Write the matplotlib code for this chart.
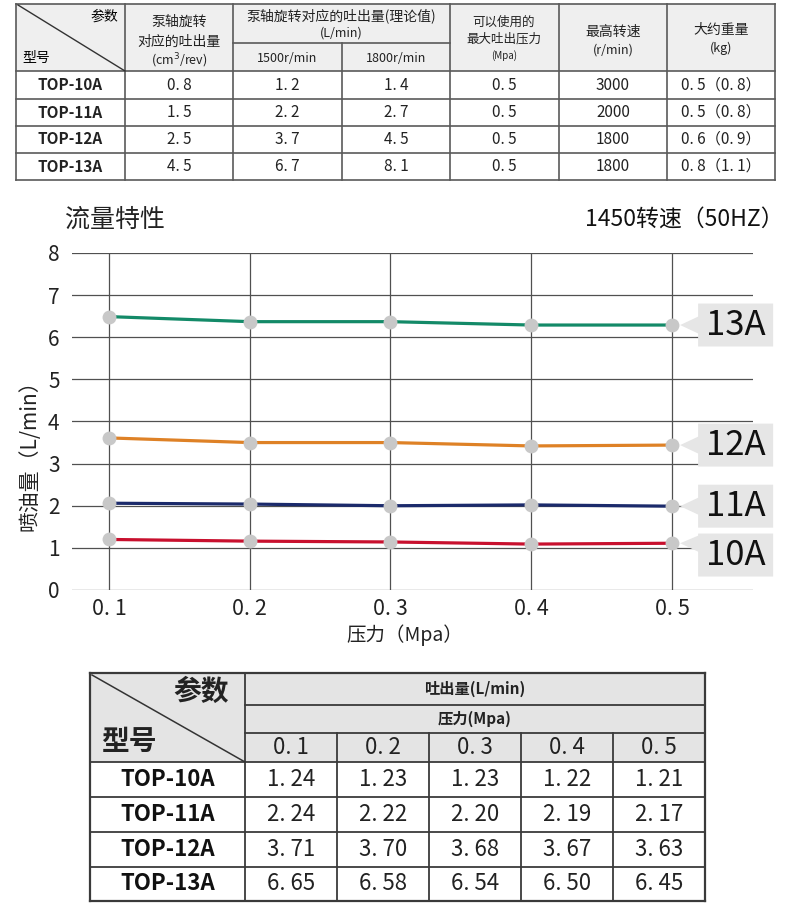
import numpy as np
import matplotlib
matplotlib.use("Agg")
import matplotlib.pyplot as plt
from matplotlib.patches import Rectangle, Polygon

plt.rcParams['font.family'] = ['Noto Sans CJK SC', 'DejaVu Sans']

# ---- data ----
models = ['TOP-10A', 'TOP-11A', 'TOP-12A', 'TOP-13A']
displacement = [0.8, 1.5, 2.5, 4.5]          # cm3/rev
flow_1500 = [1.2, 2.2, 3.7, 6.7]              # L/min
flow_1800 = [1.4, 2.7, 4.5, 8.1]              # L/min
max_pressure = [0.5, 0.5, 0.5, 0.5]           # Mpa
max_speed = [3000, 2000, 1800, 1800]          # r/min
weight = [0.5, 0.5, 0.6, 0.8]                 # kg
weight_alt = [0.8, 0.8, 0.9, 1.1]

pressure = [0.1, 0.2, 0.3, 0.4, 0.5]
# values
curve_10a = [1.20, 1.16, 1.14, 1.09, 1.11]
curve_11a = [2.06, 2.04, 2.00, 2.02, 1.99]
curve_12a = [3.61, 3.50, 3.50, 3.42, 3.44]
curve_13a = [6.49, 6.37, 6.37, 6.29, 6.29]
curve_names = ['10A', '11A', '12A', '13A']
curve_colors = ['#c8102e', '#1b2a6b', '#de8126', '#138a68']

# bottom table values
tbl_10a = [1.24, 1.23, 1.23, 1.22, 1.21]
tbl_11a = [2.24, 2.22, 2.20, 2.19, 2.17]
tbl_12a = [3.71, 3.70, 3.68, 3.67, 3.63]
tbl_13a = [6.65, 6.58, 6.54, 6.50, 6.45]


def sp(v, nd):
    # number with the wide gap after the dot, like the original
    return f"{v:.{nd}f}".replace('.', '. ')


fig = plt.figure(figsize=(7.9, 9.1), dpi=100)
bg = fig.add_axes([0, 0, 1, 1])
bg.set_xlim(0, 790)
bg.set_ylim(910, 0)
bg.axis('off')

# ---------------- top table ----------------
xs = [16, 125, 233, 342, 450, 559, 667, 775]
ys = [4, 71, 99, 126, 153, 180]
lc = '#5a5a5a'
bg.add_patch(Rectangle((xs[0], ys[0]), xs[-1] - xs[0], ys[1] - ys[0],
                       facecolor='#efefef', edgecolor='none'))
for y in ys:
    bg.plot([xs[0], xs[-1]], [y, y], color=lc, lw=1.2)
for i, x in enumerate(xs):
    if i == 3:
        bg.plot([x, x], [43, ys[-1]], color=lc, lw=1.2)
    else:
        bg.plot([x, x], [ys[0], ys[-1]], color=lc, lw=1.2)
bg.plot([xs[2], xs[4]], [43, 43], color=lc, lw=1.2)
bg.plot([18, 125], [5, 71], color='#333', lw=1.0)

bg.text(118, 17, '参数', ha='right', va='center', fontsize=10)
bg.text(22, 58, '型号', ha='left', va='center', fontsize=10)
hdr = [
    (179, 22, '泵轴旋转', 10), (179, 42, '对应的吐出量', 10), (179, 61, '(cm$^3$/rev)', 9),
    (341, 16, '泵轴旋转对应的吐出量(理论值)', 10), (341, 33, '(L/min)', 9),
    (287, 58, '1500r/min', 9), (396, 58, '1800r/min', 9),
    (504, 22, '可以使用的', 9), (504, 39, '最大吐出压力', 9), (504, 56, '(Mpa)', 7),
    (613, 32, '最高转速', 10), (613, 50, '(r/min)', 9),
    (721, 30, '大约重量', 10), (721, 48, '(kg)', 9),
]
for x, y, t, s in hdr:
    bg.text(x, y, t, ha='center', va='center', fontsize=s, color='#222')

cols = [models,
        [sp(v, 1) for v in displacement],
        [sp(v, 1) for v in flow_1500],
        [sp(v, 1) for v in flow_1800],
        [sp(v, 1) for v in max_pressure],
        [str(v) for v in max_speed],
        [f"{sp(a, 1)}（{sp(b, 1)}）" for a, b in zip(weight, weight_alt)]]
for c, vals in enumerate(cols):
    cx = (xs[c] + xs[c + 1]) / 2
    for r, t in enumerate(vals):
        cy = (ys[r + 1] + ys[r + 2]) / 2
        bg.text(cx, cy, t, ha='center', va='center', fontsize=11,
                fontweight='semibold' if c == 0 else 'normal', color='#222')

# ---------------- chart ----------------
ax = fig.add_axes([72 / 790, (910 - 590) / 910, (753 - 72) / 790, (590 - 253) / 910])
ax.set_xlim(0.0737, 0.5576)
ax.set_ylim(0, 8)
for s in ax.spines.values():
    s.set_visible(False)
ax.set_xticks(pressure)
ax.set_xticklabels([sp(p, 1) for p in pressure])
ax.set_yticks(range(0, 9))
ax.tick_params(length=0, labelsize=15, labelcolor='#222')
ax.tick_params(axis='y', pad=9)
ax.tick_params(axis='x', pad=6, labelsize=15.5)
ax.grid(True, color='#505050', lw=0.9)
ax.set_axisbelow(True)

curves = [curve_10a, curve_11a, curve_12a, curve_13a]
for vals, col in zip(curves, curve_colors):
    ax.plot(pressure, vals, color=col, lw=2.3, zorder=3)
    ax.plot(pressure, vals, 'o', color='#c8c8c8', ms=10, mec='none', zorder=4)

# callout labels at the right end
x0, x1, xt = 0.5186, 0.5719, 0.5058
hh = 0.51
prev = None
centers = {}
for i in range(len(curves) - 1, -1, -1):
    yc = curves[i][-1]
    if prev is not None and yc > prev - 1.16:
        yc = prev - 1.16
    centers[i] = yc
    prev = yc
for i, vals in enumerate(curves):
    yc = centers[i]
    ty = vals[-1]
    lo = max(ty - 0.2, yc - hh + 0.05)
    hi = min(ty + 0.2, yc + hh - 0.05)
    poly = Polygon([(x0, yc + hh), (x1, yc + hh), (x1, yc - hh), (x0, yc - hh),
                    (x0, lo), (xt, ty), (x0, hi)],
                   closed=True, facecolor='#e6e6e6', edgecolor='none',
                   clip_on=False, zorder=2)
    ax.add_patch(poly)
    ax.text((x0 + x1) / 2, yc, curve_names[i], ha='center', va='center',
            fontsize=25, color='#111', clip_on=False, zorder=5)

bg.text(65, 220, '流量特性', ha='left', va='center', fontsize=18, color='#222')
bg.text(784, 220, '1450转速（50HZ）', ha='right', va='center', fontsize=16.5, color='#111')
bg.text(30, 450, '喷油量（L/min）', ha='center', va='center', rotation=90,
        fontsize=15, color='#222')
bg.text(405, 635, '压力（Mpa）', ha='center', va='center', fontsize=14, color='#222')

# ---------------- bottom table ----------------
bx = [90, 245, 337, 429, 521, 613, 705]
by = [673, 705, 733, 762, 797, 832, 867, 901]
blc = '#3a3a3a'
bg.add_patch(Rectangle((bx[0], by[0]), bx[-1] - bx[0], by[3] - by[0],
                       facecolor='#e4e4e4', edgecolor='none'))
for j, y in enumerate(by):
    if j in (1, 2):
        bg.plot([bx[1], bx[-1]], [y, y], color=blc, lw=1.3)
    else:
        bg.plot([bx[0], bx[-1]], [y, y], color=blc, lw=1.6 if j in (0, 7) else 1.3)
for i, x in enumerate(bx):
    if i in (0, 1, len(bx) - 1):
        bg.plot([x, x], [by[0], by[-1]], color=blc, lw=1.6 if i != 1 else 1.3)
    else:
        bg.plot([x, x], [by[2], by[-1]], color=blc, lw=1.3)
bg.plot([92, 245], [675, 762], color='#333', lw=1.1)

bg.text(229, 692, '参数', ha='right', va='center', fontsize=20, fontweight='bold', color='#222')
bg.text(101, 742, '型号', ha='left', va='center', fontsize=20, fontweight='bold', color='#222')
bg.text(475, 689, '吐出量(L/min)', ha='center', va='center', fontsize=11,
        fontweight='bold', color='#222')
bg.text(475, 719, '压力(Mpa)', ha='center', va='center', fontsize=11,
        fontweight='bold', color='#222')
for k, p in enumerate(pressure):
    bg.text((bx[k + 1] + bx[k + 2]) / 2, 748, sp(p, 1), ha='center', va='center',
            fontsize=16, color='#222')

tbl = [tbl_10a, tbl_11a, tbl_12a, tbl_13a]
for r, (m, vals) in enumerate(zip(models, tbl)):
    cy = (by[r + 3] + by[r + 4]) / 2
    bg.text((bx[0] + bx[1]) / 2, cy, m, ha='center', va='center', fontsize=16,
            fontweight='bold', color='#111')
    for k, v in enumerate(vals):
        bg.text((bx[k + 1] + bx[k + 2]) / 2, cy, sp(v, 2), ha='center', va='center',
                fontsize=16, color='#222')

fig.savefig('out.png', dpi=100, facecolor='white')
